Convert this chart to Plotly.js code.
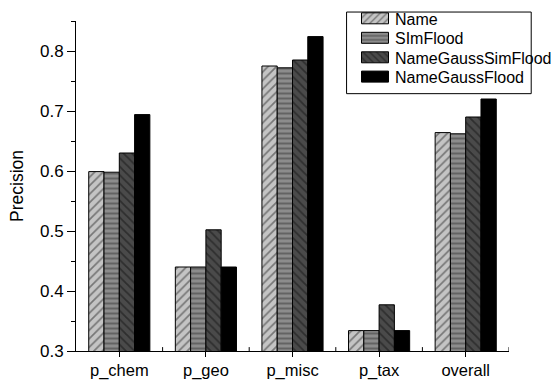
<!DOCTYPE html>
<html>
<head>
<meta charset="utf-8">
<script src="https://cdn.plot.ly/plotly-3.0.1.min.js"></script>
<style>
  html, body { margin: 0; padding: 0; background: #fff; }
  #chart { width: 560px; height: 381px; }
</style>
</head>
<body>
<div id="chart"></div>
<script>
// Precision per dataset for the four matching methods
const categories = ['p_chem', 'p_geo', 'p_misc', 'p_tax', 'overall'];
const seriesNames = ['Name', 'SImFlood', 'NameGaussSimFlood', 'NameGaussFlood'];
const nameVals = [0.599, 0.440, 0.775, 0.334, 0.664];
const simFloodVals = [0.598, 0.440, 0.772, 0.334, 0.662];
const nameGaussSimFloodVals = [0.630, 0.502, 0.785, 0.377, 0.690];
const nameGaussFloodVals = [0.694, 0.440, 0.824, 0.334, 0.720];
const yTickVals = [0.3, 0.4, 0.5, 0.6, 0.7, 0.8];

const FONT = 'Liberation Sans, Arial, sans-serif';

function barTrace(name, vals, bg, fg, shape, size, solidity) {
  const marker = { color: bg, line: { color: '#000', width: 1 } };
  if (shape) {
    marker.pattern = { shape: shape, fillmode: 'overlay', fgcolor: fg, bgcolor: bg, size: size, solidity: solidity };
  }
  return { type: 'bar', name: name, x: categories, y: vals, marker: marker };
}

const data = [
  barTrace(seriesNames[0], nameVals, '#c4c4c4', '#2a2a2a', '/', 6, 0.28),
  barTrace(seriesNames[1], simFloodVals, '#8c8c8c', '#3a3a3a', '-', 5, 0.4),
  barTrace(seriesNames[2], nameGaussSimFloodVals, '#4a4a4a', '#111', '\\', 6, 0.3),
  barTrace(seriesNames[3], nameGaussFloodVals, '#000', '#000', '', 0, 0)
];

// plot area in pixels
const L = 75.5, R = 531.6, T = 12.7, B = 351.5;
const W = 560, H = 381;
const pw = R - L, ph = B - T;
const px = v => (v - L) / pw;
const py = v => (B - v) / ph;

// small upward ticks on the category boundaries
const boundaryTicks = [0.5, 1.5, 2.5, 3.5, 4.5].map(b => ({
  type: 'line', xref: 'x', yref: 'paper', x0: b, x1: b, y0: 0, y1: 4 / ph,
  line: { color: '#000', width: 1 }
}));

const layout = {
  width: W, height: H,
  margin: { l: L, r: W - R, t: T, b: H - B, pad: 0 },
  paper_bgcolor: '#fff', plot_bgcolor: '#fff',
  font: { family: FONT, size: 16, color: '#000' },
  barmode: 'group', bargap: 0.294, bargroupgap: 0,
  showlegend: true,
  legend: {
    x: px(360), y: py(3.5), xanchor: 'left', yanchor: 'top',
    bgcolor: 'rgba(0,0,0,0)', borderwidth: 0,
    font: { family: FONT, size: 16, color: '#000' },
    traceorder: 'normal'
  },
  xaxis: {
    type: 'category', range: [-0.5, 4.5],
    showline: true, linecolor: '#000', linewidth: 1,
    ticks: 'outside', ticklen: 4.5, tickwidth: 1, tickcolor: '#000',
    showgrid: false, zeroline: false,
    tickfont: { family: FONT, size: 16.5, color: '#000' }
  },
  yaxis: {
    range: [0.3, 0.85], tickvals: yTickVals, tickformat: '.1f',
    showline: true, linecolor: '#000', linewidth: 1,
    ticks: 'outside', ticklen: 8, tickwidth: 1, tickcolor: '#000',
    minor: { dtick: 0.05, tick0: 0.3, ticks: 'outside', ticklen: 4.5, tickwidth: 1, tickcolor: '#000', showgrid: false },
    showgrid: false, zeroline: false,
    tickfont: { family: FONT, size: 17, color: '#000' },
    title: { text: 'Precision', font: { family: FONT, size: 17.5, color: '#000' }, standoff: 11 }
  },
  shapes: [
    ...boundaryTicks,
    {
      type: 'rect', xref: 'paper', yref: 'paper',
      x0: px(360.5), x1: px(555), y0: py(87.3), y1: py(3.5),
      line: { color: '#000', width: 1 }, fillcolor: 'rgba(0,0,0,0)'
    }
  ]
};

Plotly.newPlot('chart', data, layout, { staticPlot: true, displayModeBar: false }).then(gd => {
  // wider legend swatches and tighter rows
  const legend = gd.querySelector('.legend');
  if (legend) legend.setAttribute('transform', 'translate(355,0)');
  const centers = [18.3, 37.8, 57.3, 76.6];
  gd.querySelectorAll('.legend .traces').forEach((g, i) => {
    g.setAttribute('transform', 'translate(0,' + centers[i] + ')');
    const p = g.querySelector('.legendpoints path');
    if (p) p.setAttribute('d', 'M13.5,5.5H-13.5V-5.5H13.5Z');
  });
});
</script>
</body>
</html>
